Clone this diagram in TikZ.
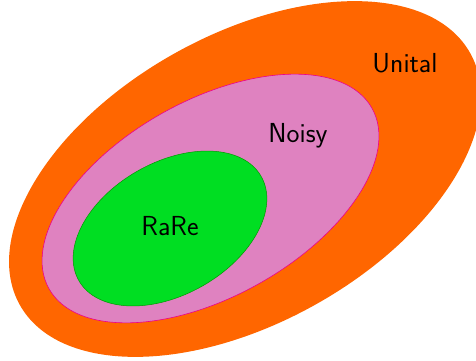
\documentclass[tikz,border=0pt]{standalone}
\definecolor{unitalc}{RGB}{255,102,0}
\definecolor{noisyc}{RGB}{223,130,192}
\definecolor{rarec}{RGB}{0,222,34}
\tikzset{lbl/.style={font=\sffamily\fontsize{27.5}{32}\selectfont, inner sep=0pt}}
\begin{document}
\begin{tikzpicture}[x=1pt,y=1pt]
\useasboundingbox (0,0) rectangle (476,360);
\clip (0,0) rectangle (476,360);
\fill[unitalc] (245,181) ellipse[x radius=258, y radius=144, rotate=29.2];
\filldraw[fill=noisyc, draw=magenta, line width=0.6pt] (210.5,161.5) ellipse[x radius=185, y radius=98, rotate=29.2];
\filldraw[fill=rarec, draw=black!40!green, line width=0.5pt] (170,131.5) ellipse[x radius=105, y radius=66, rotate=29.8];
\node[lbl] (unital) at (405,297) {Unital};
\node[lbl] (noisy) at (298,224) {Noisy};
\node[lbl] (rare) at (170,134) {RaRe};
\end{tikzpicture}
\end{document}
